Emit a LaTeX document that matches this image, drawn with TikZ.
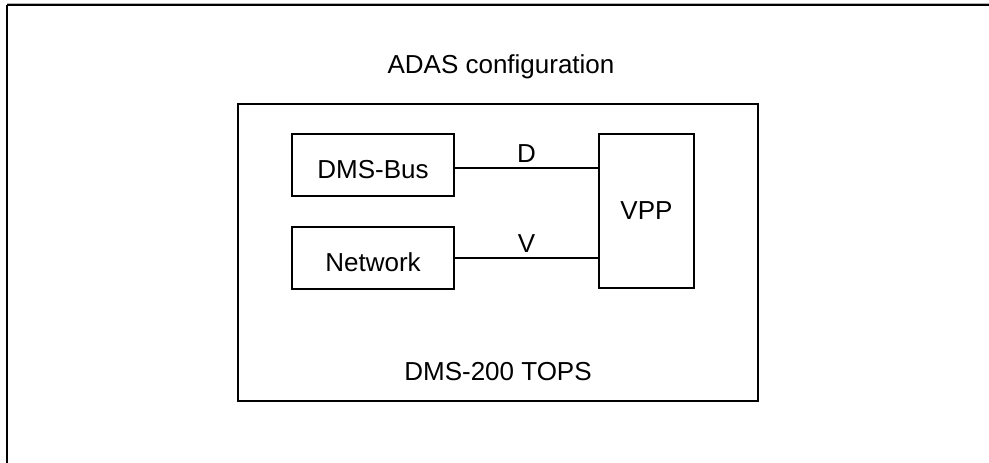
\documentclass[tikz,border=0pt]{standalone}
\usepackage{fontspec}
\setmainfont{Liberation Sans}
\usepackage{tikz}
\newcommand*{\pageW}{989}
\newcommand*{\pageH}{463}
\usetikzlibrary{positioning}
\tikzset{unitbox/.style={
    draw=black,
    line width=2.4pt,% boxes are drawn heavier than the links
    inner sep=0pt,
    minimum width=162pt,
    minimum height=62pt
  },
  lowtext/.style={text height=27pt},% text sits a little below the middle
  linkline/.style={draw=black, line width=1.6pt},
  every node/.style={font=\fontsize{26}{30}\selectfont}
}

\begin{document}
\begin{tikzpicture}[x=1pt,y=-1pt]
    \useasboundingbox (0,0) rectangle (\pageW,\pageH);
    % page frame, top and left edge only
    \draw [gray!60,line width=1pt] (7,3) -- (\pageW,3);
    \draw [black,line width=2pt] (7,4.5) -- (\pageW,4.5);
    \draw [black,line width=2pt] (7,4.5) -- (7,\pageH);

    \node (title) at (501,67) {ADAS configuration};
    \node [unitbox,minimum width=520pt,minimum height=297pt] (tops) at (498,252.5) {};
    \node (topsname) at (498,372) {DMS-200 TOPS};

    \node [unitbox,lowtext] (bus) at (373,165) {DMS-Bus};
    \node [unitbox,lowtext] (net) at (373,258) {Network};
    \node [unitbox,minimum width=95pt,minimum height=154pt] (vpp) at (646.5,211) {VPP};

    \draw [linkline] ([yshift=-3pt]bus.east) -- node [above=1pt] (dlabel) {D} ([yshift=-3pt]bus.east -| vpp.west);
    \draw [linkline] (net.east) -- node [above=1pt] (vlabel) {V} (net.east -| vpp.west);
\end{tikzpicture}
\end{document}
